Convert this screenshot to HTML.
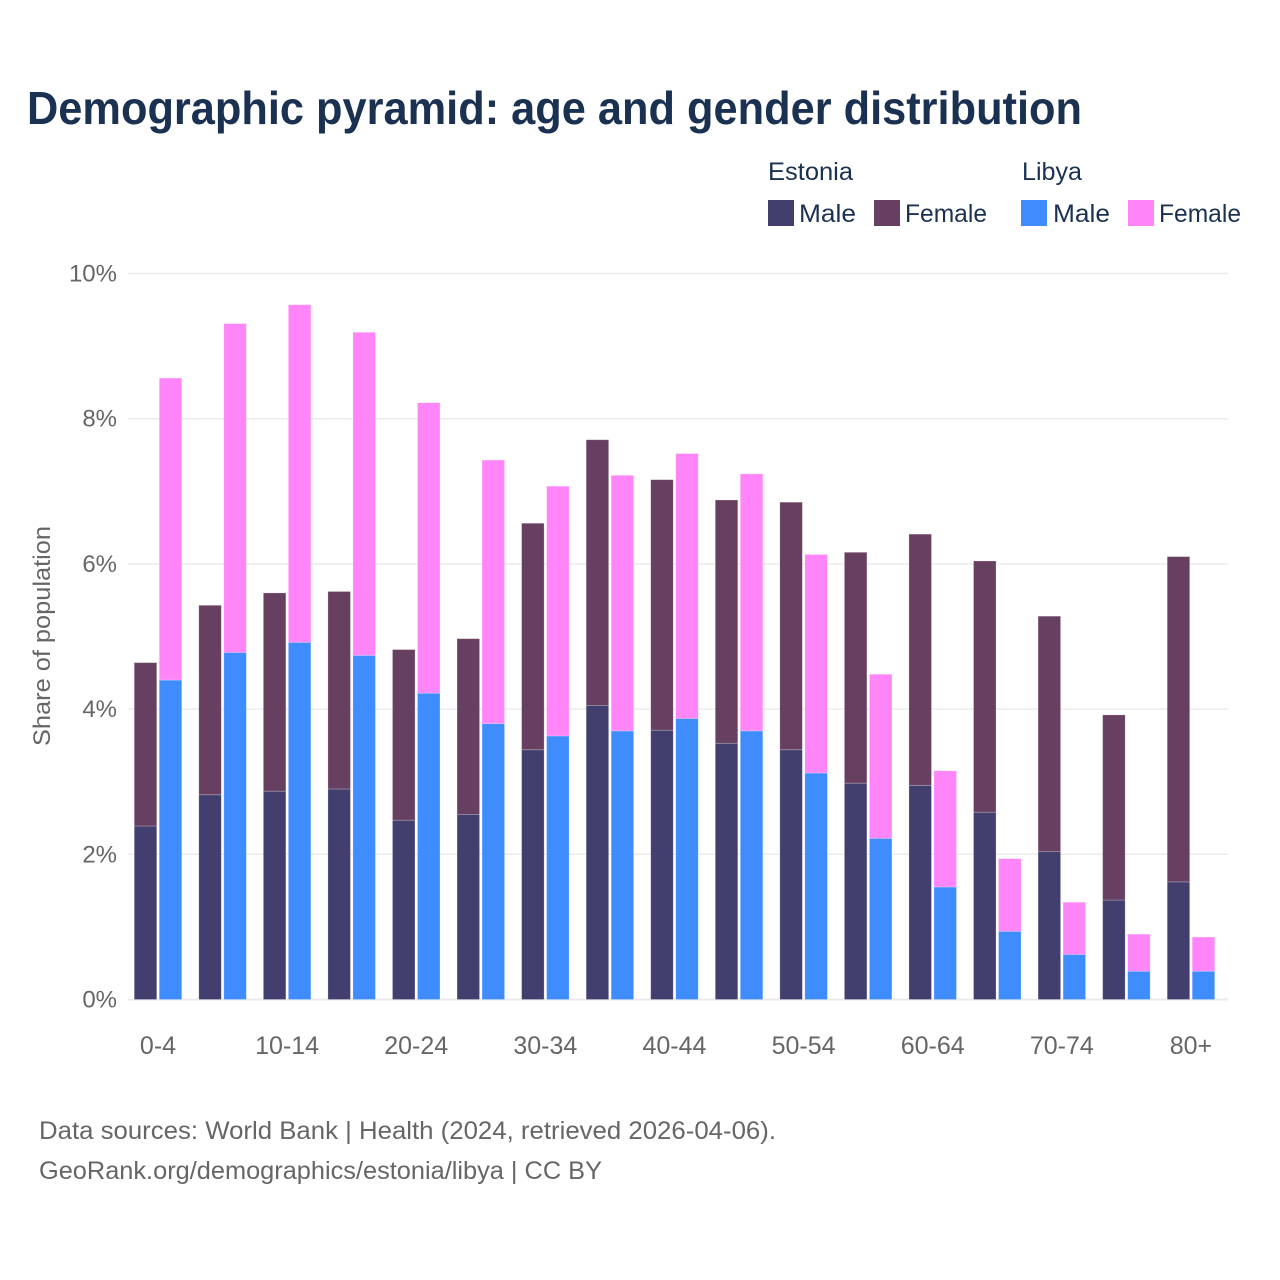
<!DOCTYPE html>
<html lang="en">
<head>
<meta charset="utf-8">
<title>Demographic pyramid: age and gender distribution</title>
<style>
  html, body { margin: 0; padding: 0; background: #fff; }
  svg { display: block; font-family: "Liberation Sans", sans-serif; }
</style>
</head>
<body>
<svg id="chart" width="1280" height="1280" viewBox="0 0 1280 1280" xmlns="http://www.w3.org/2000/svg">
  <rect x="0" y="0" width="1280" height="1280" fill="#ffffff"/>
  <text x="27" y="124" font-size="46" font-weight="700" fill="#1a3152" textLength="1055" lengthAdjust="spacingAndGlyphs">Demographic pyramid: age and gender distribution</text>

  <g>
    <text x="768" y="180" font-size="25" fill="#1a3152" textLength="85" lengthAdjust="spacingAndGlyphs">Estonia</text>
    <text x="1022" y="180" font-size="25" fill="#1a3152" textLength="60" lengthAdjust="spacingAndGlyphs">Libya</text>
    <rect x="768" y="200" width="26" height="26" fill="#423f6f"/>
    <text x="799" y="222" font-size="25" fill="#1a3152" textLength="57" lengthAdjust="spacingAndGlyphs">Male</text>
    <rect x="874" y="200" width="26" height="26" fill="#673f60"/>
    <text x="905" y="222" font-size="25" fill="#1a3152" textLength="82" lengthAdjust="spacingAndGlyphs">Female</text>
    <rect x="1021" y="200" width="26" height="26" fill="#3f8cff"/>
    <text x="1053" y="222" font-size="25" fill="#1a3152" textLength="57" lengthAdjust="spacingAndGlyphs">Male</text>
    <rect x="1128" y="200" width="26" height="26" fill="#ff85f9"/>
    <text x="1159" y="222" font-size="25" fill="#1a3152" textLength="82" lengthAdjust="spacingAndGlyphs">Female</text>
  </g>

  <g id="grid"></g>
  <g id="bars"></g>
  <g id="y-ticks"></g>
  <g id="x-ticks"></g>

  <text transform="translate(50,746) rotate(-90)" x="0" y="0" font-size="24" fill="#666666" textLength="220" lengthAdjust="spacingAndGlyphs">Share of population</text>

  <text x="39" y="1139" font-size="25" fill="#666666" textLength="737" lengthAdjust="spacingAndGlyphs">Data sources: World Bank | Health (2024, retrieved 2026-04-06).</text>
  <text x="39" y="1179" font-size="25" fill="#666666" textLength="563" lengthAdjust="spacingAndGlyphs">GeoRank.org/demographics/estonia/libya | CC BY</text>
</svg>
<script>
const categories = ["0-4","5-9","10-14","15-19","20-24","25-29","30-34","35-39","40-44","45-49","50-54","55-59","60-64","65-69","70-74","75-79","80+"];
const estoniaMale = [2.39,2.82,2.87,2.90,2.47,2.55,3.44,4.05,3.71,3.53,3.44,2.98,2.95,2.58,2.04,1.37,1.62];
const estoniaFemale = [2.25,2.61,2.73,2.72,2.35,2.42,3.12,3.66,3.45,3.35,3.41,3.18,3.46,3.46,3.24,2.55,4.48];
const libyaMale = [4.40,4.78,4.92,4.74,4.22,3.80,3.63,3.70,3.87,3.70,3.12,2.22,1.55,0.94,0.62,0.39,0.39];
const libyaFemale = [4.16,4.53,4.65,4.45,4.00,3.63,3.44,3.52,3.65,3.54,3.01,2.26,1.60,1.00,0.72,0.51,0.47];
const yTicks = [0,2,4,6,8,10];

const NS = "http://www.w3.org/2000/svg";
const yScale = v => 999.5 - v * 72.6;
const xGroup = i => 158 + i * 64.56;
const BAR_W = 22.5;
const BAR_GAP = 2.5;

function svgEl(tag, attrs, parent) {
  const el = document.createElementNS(NS, tag);
  for (const k in attrs) el.setAttribute(k, attrs[k]);
  parent.appendChild(el);
  return el;
}

const grid = document.getElementById("grid");
const yTickGroup = document.getElementById("y-ticks");
yTicks.forEach(t => {
  const line = svgEl("line", {x1:128, x2:1228, y1:yScale(t), y2:yScale(t), stroke:"#ebebeb", "stroke-width":t === 0 ? 2 : 1.5}, grid);
  
  
  const label = svgEl("text", {x:117, y:yScale(t) + 8, "text-anchor":"end", "font-size":24, fill:"#666666"}, yTickGroup);
  
  
  label.textContent = t + "%";
});

const barsGroup = document.getElementById("bars");
function drawBar(x, base, value, fill) {
  const yTop = yScale(base + value);
  const yBottom = yScale(base);
  const bar = svgEl("rect", {x:x, y:yTop, width:BAR_W, height:yBottom - yTop, fill:fill, stroke:"#ffffff", "stroke-opacity":0.3, "stroke-width":0.75}, barsGroup);
  return bar;
}

categories.forEach((cat, i) => {
  const cx = xGroup(i);
  const xEst = cx - BAR_GAP / 2 - BAR_W;
  const xLib = cx + BAR_GAP / 2;

  const b1 = drawBar(xEst, 0, estoniaMale[i], "#423f6f");
  
  
  const b2 = drawBar(xEst, estoniaMale[i], estoniaFemale[i], "#673f60");
  
  
  const b3 = drawBar(xLib, 0, libyaMale[i], "#3f8cff");
  
  
  const b4 = drawBar(xLib, libyaMale[i], libyaFemale[i], "#ff85f9");
  
  
});

const xTickGroup = document.getElementById("x-ticks");
categories.forEach((cat, i) => {
  if (i % 2 !== 0) return;
  const label = svgEl("text", {x:xGroup(i), y:1054, "text-anchor":"middle", "font-size":25, fill:"#666666"}, xTickGroup);
  
  
  label.textContent = cat;
});
</script>
</body>
</html>
